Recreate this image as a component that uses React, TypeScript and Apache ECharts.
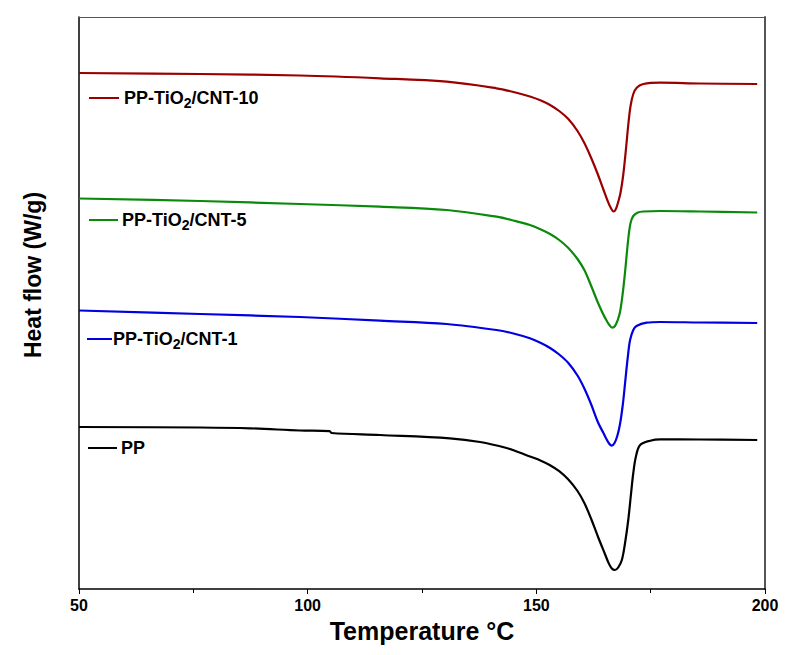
import React, { useEffect, useRef } from "react";
import * as echarts from "echarts";

// Temperature (°C) and heat flow (arbitrary offset units, W/g) for each sample
const ppTemp = [50, 76.5, 87.4, 98.3, 104.8, 105.2, 115.8, 131.1, 137.7, 143.5, 146.0, 148.6, 151.0, 153.0, 155.0, 157.0, 159.0, 160.5, 162.0, 163.5, 165.0, 165.8, 166.5, 167.2, 167.9, 168.7, 169.4, 170.1, 170.7, 171.2, 171.8, 172.7, 174.9, 177.1, 185.8, 198.3];
const ppFlow = [1.62, 1.615, 1.607, 1.585, 1.578, 1.56, 1.54, 1.507, 1.47, 1.41, 1.37, 1.325, 1.283, 1.238, 1.178, 1.095, 0.98, 0.86, 0.7, 0.52, 0.35, 0.26, 0.205, 0.19, 0.215, 0.29, 0.46, 0.69, 0.95, 1.16, 1.33, 1.44, 1.483, 1.497, 1.495, 1.49];

const cnt1Temp = [50, 76.5, 98.3, 115.8, 130.4, 141.3, 145.0, 148.6, 151.0, 153.0, 155.0, 157.0, 159.0, 160.5, 162.0, 163.5, 164.7, 165.2, 165.9, 166.5, 167.1, 167.7, 168.3, 168.9, 169.4, 170.0, 170.5, 171.2, 171.9, 174.1, 177.1, 185.8, 198.3];
const cnt1Flow = [2.785, 2.75, 2.72, 2.683, 2.65, 2.59, 2.555, 2.507, 2.46, 2.41, 2.345, 2.26, 2.135, 2.005, 1.845, 1.665, 1.557, 1.51, 1.455, 1.433, 1.46, 1.53, 1.65, 1.84, 2.057, 2.32, 2.49, 2.59, 2.63, 2.663, 2.67, 2.665, 2.66];

const cnt5Temp = [50, 76.5, 98.3, 115.8, 130.4, 141.3, 145.0, 148.6, 151.0, 153.0, 155.0, 157.0, 159.0, 160.5, 162.0, 163.5, 164.7, 165.3, 165.9, 166.6, 167.2, 167.8, 168.3, 168.9, 169.4, 170.1, 170.6, 171.2, 172.2, 173.4, 177.1, 185.8, 198.3];
const cnt5Flow = [3.905, 3.88, 3.85, 3.823, 3.79, 3.723, 3.685, 3.64, 3.595, 3.55, 3.49, 3.41, 3.3, 3.19, 3.03, 2.86, 2.74, 2.69, 2.645, 2.613, 2.63, 2.69, 2.77, 2.96, 3.17, 3.5, 3.66, 3.73, 3.765, 3.775, 3.78, 3.775, 3.765];

const cnt10Temp = [50, 76.5, 98.3, 115.8, 130.4, 141.3, 145.0, 148.6, 151.0, 153.0, 155.0, 157.0, 159.0, 160.5, 162.0, 163.5, 164.7, 165.6, 166.3, 166.9, 167.4, 167.9, 168.4, 169.0, 169.6, 170.1, 170.6, 171.2, 172.0, 173.4, 177.1, 185.8, 198.3];
const cnt10Flow = [5.16, 5.15, 5.135, 5.107, 5.073, 5.007, 4.97, 4.925, 4.885, 4.84, 4.78, 4.7, 4.58, 4.46, 4.31, 4.14, 3.99, 3.88, 3.81, 3.775, 3.8, 3.87, 3.96, 4.14, 4.4, 4.64, 4.83, 4.95, 5.015, 5.05, 5.063, 5.055, 5.05];

const xTicks = { min: 50, max: 200, step: 50 };
const seriesNames = ["PP", "PP-TiO2/CNT-1", "PP-TiO2/CNT-5", "PP-TiO2/CNT-10"];
const seriesColors = ["#000000", "#0000e0", "#0a8a0a", "#9b0000"];

const zip = (xs: number[], ys: number[]) => xs.map((x, i) => [x, ys[i]]);

const FONT = "Liberation Sans, Arial, sans-serif";

function legendItem(x1: number, x2: number, y: number, tx: number, color: string, parts: [string, boolean][]) {
  const text = parts.map(([t, sub]) => (sub ? `{s|${t}}` : `{b|${t}}`)).join("");
  return [
    { type: "line", shape: { x1, y1: y, x2, y2: y }, style: { stroke: color, lineWidth: 2 }, silent: true },
    {
      type: "text",
      x: tx,
      y: y,
      style: {
        text,
        textAlign: "left",
        textVerticalAlign: "middle",
        rich: {
          b: { fontFamily: FONT, fontWeight: "bold", fontSize: 18, fill: "#000", lineHeight: 22, verticalAlign: "middle" },
          s: { fontFamily: FONT, fontWeight: "bold", fontSize: 14, fill: "#000", lineHeight: 22, padding: [9, 0, 0, 0], verticalAlign: "middle" },
        },
      },
      silent: true,
    },
  ];
}

export default function App() {
  const ref = useRef<HTMLDivElement>(null);
  useEffect(() => {
    document.body.style.margin = "0";
    if (!ref.current) return;
    const chart = echarts.init(ref.current, null, { renderer: "svg" });
    const data = [zip(ppTemp, ppFlow), zip(cnt1Temp, cnt1Flow), zip(cnt5Temp, cnt5Flow), zip(cnt10Temp, cnt10Flow)];
    chart.setOption({
      animation: false,
      backgroundColor: "#ffffff",
      grid: { left: 79, right: 31, top: 17, bottom: 66, containLabel: false },
      xAxis: [
        {
          type: "value",
          min: xTicks.min,
          max: xTicks.max,
          interval: xTicks.step,
          name: "Temperature °C",
          nameLocation: "middle",
          nameGap: 29,
          nameTextStyle: { fontFamily: FONT, fontWeight: "bold", fontSize: 25, color: "#000" },
          axisLine: { show: true, lineStyle: { color: "#000", width: 1.5 } },
          axisTick: { show: true, inside: false, length: 5, lineStyle: { color: "#000", width: 1 } },
          minorTick: { show: true, splitNumber: 2, length: 4, lineStyle: { color: "#000", width: 1 } },
          axisLabel: { fontFamily: FONT, fontWeight: "bold", fontSize: 16, color: "#000", margin: 8 },
          splitLine: { show: false },
        },
        {
          type: "value",
          position: "top",
          min: xTicks.min,
          max: xTicks.max,
          axisLine: { show: true, onZero: false, lineStyle: { color: "#555", width: 1 } },
          axisTick: { show: false },
          axisLabel: { show: false },
          splitLine: { show: false },
        },
      ],
      yAxis: [
        {
          type: "value",
          min: 0,
          max: 5.72,
          axisLine: { show: true, onZero: false, lineStyle: { color: "#000", width: 1.5 } },
          axisTick: { show: false },
          axisLabel: { show: false },
          splitLine: { show: false },
        },
        {
          type: "value",
          position: "right",
          min: 0,
          max: 5.72,
          axisLine: { show: true, onZero: false, lineStyle: { color: "#555", width: 2 } },
          axisTick: { show: false },
          axisLabel: { show: false },
          splitLine: { show: false },
        },
      ],
      series: data.map((d, i) => ({
        name: seriesNames[i],
        type: "line",
        data: d,
        xAxisIndex: 0,
        yAxisIndex: 0,
        showSymbol: false,
        smooth: 0.35,
        lineStyle: { color: seriesColors[i], width: 2.2 },
        itemStyle: { color: seriesColors[i] },
      })),
      graphic: [
        {
          type: "text",
          x: 33,
          y: 275,
          rotation: Math.PI / 2,
          style: {
            text: "Heat flow (W/g)",
            fontFamily: FONT,
            fontWeight: "bold",
            fontSize: 23,
            fill: "#000",
            textAlign: "center",
            textVerticalAlign: "middle",
          },
          silent: true,
        },
        ...legendItem(89, 119, 98, 124, seriesColors[3], [["PP-TiO", false], ["2", true], ["/CNT-10", false]]),
        ...legendItem(89, 118, 220, 122, seriesColors[2], [["PP-TiO", false], ["2", true], ["/CNT-5", false]]),
        ...legendItem(87, 112, 339, 113, seriesColors[1], [["PP-TiO", false], ["2", true], ["/CNT-1", false]]),
        ...legendItem(88, 117, 448, 121, seriesColors[0], [["PP", false]]),
      ],
    });
    return () => chart.dispose();
  }, []);
  return <div ref={ref} style={{ width: 796, height: 655 }} />;
}
